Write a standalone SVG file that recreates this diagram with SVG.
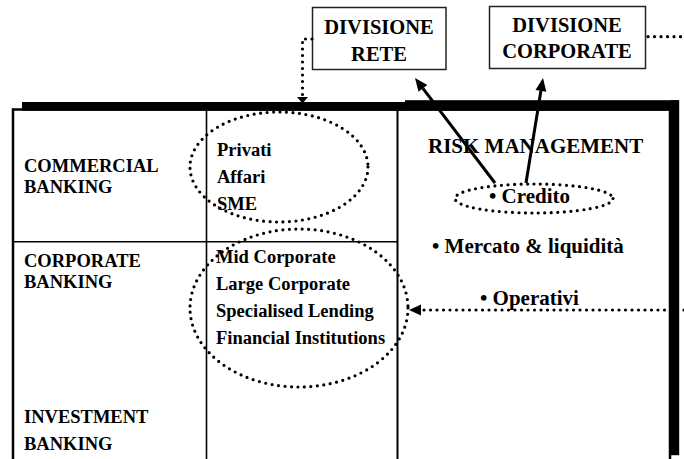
<svg xmlns="http://www.w3.org/2000/svg" width="684" height="459" viewBox="0 0 684 459">
<style>
.t{font-family:"Liberation Serif","Times New Roman",serif;font-weight:bold;fill:#000}
.tbl{font-size:18.5px}
.rm{font-size:21px}
.hd{font-size:20.5px;text-anchor:middle}
.box{fill:#fff;stroke:#222;stroke-width:1.5}
.dot{fill:none;stroke:#000;stroke-width:3.2;stroke-linecap:round;stroke-dasharray:0 6.5}
.ln{stroke:#000;fill:none}
.arr{stroke:#000;stroke-width:3;fill:none}
.head{fill:#000}
</style>
<rect x="0" y="0" width="684" height="459" fill="#fff"/>
<g id="table">
  <rect x="13" y="109.5" width="657" height="360" fill="none" stroke="#000" stroke-width="2.5"/>
  <line class="ln" x1="206.5" y1="109" x2="206.5" y2="459" stroke-width="1.6"/>
  <line class="ln" x1="397.5" y1="109" x2="397.5" y2="459" stroke-width="2"/>
  <line class="ln" x1="13" y1="241.7" x2="397.5" y2="241.7" stroke-width="1.6"/>
  <rect x="22" y="102" width="385" height="8.7" fill="#000"/>
  <rect x="405" y="100.2" width="274" height="10.5" fill="#000"/>
  <rect x="670.5" y="100.2" width="8.7" height="355" fill="#000"/>
</g>
<g id="commercial">
  <text class="t tbl" x="24" y="171.7">COMMERCIAL</text>
  <text class="t tbl" x="24" y="193.3">BANKING</text>
</g>
<g id="corporate">
  <text class="t tbl" x="24" y="266.7">CORPORATE</text>
  <text class="t tbl" x="24" y="288">BANKING</text>
</g>
<g id="investment">
  <text class="t tbl" x="24" y="423.3">INVESTMENT</text>
  <text class="t tbl" x="24" y="450">BANKING</text>
</g>
<g id="retail-segments">
  <text class="t tbl" x="217" y="155.7">Privati</text>
  <text class="t tbl" x="217" y="183.3">Affari</text>
  <text class="t tbl" x="217" y="210">SME</text>
  <ellipse class="dot" cx="279" cy="167" rx="89" ry="55"/>
</g>
<g id="corporate-segments">
  <text class="t tbl" x="216" y="263.3">Mid Corporate</text>
  <text class="t tbl" x="216" y="290">Large Corporate</text>
  <text class="t tbl" x="216" y="317.3">Specialised Lending</text>
  <text class="t tbl" x="216" y="344">Financial Institutions</text>
  <ellipse class="dot" cx="299" cy="308" rx="109" ry="79"/>
</g>
<g id="risk-management">
  <text class="t rm" x="428" y="152.7">RISK MANAGEMENT</text>
  <text class="t rm" x="489" y="202.7">• Credito</text>
  <ellipse class="dot" cx="534" cy="198.5" rx="79" ry="14.5"/>
  <text class="t rm" x="432" y="253.3">• Mercato &amp; liquidità</text>
  <text class="t rm" x="480" y="305">• Operativi</text>
</g>
<g id="divisione-rete">
  <rect class="box" x="312.5" y="7.5" width="133.5" height="62"/>
  <text class="t hd" x="379" y="34.3">DIVISIONE</text>
  <text class="t hd" x="379" y="60.5">RETE</text>
</g>
<g id="divisione-corporate">
  <rect class="box" x="489.5" y="6.5" width="156" height="62"/>
  <text class="t hd" x="567" y="31.7">DIVISIONE</text>
  <text class="t hd" x="567" y="58.3">CORPORATE</text>
</g>
<g id="connectors">
  <path class="dot" d="M312,39 L302.5,39 L302.5,95"/>
  <polygon class="head" points="297,97 308,97 302.5,103.5"/>
  <path class="dot" d="M648,36.7 L684,36.7"/>
  <path class="dot" d="M684,310 L421,310"/>
  <polygon class="head" points="409,310 421,304.5 421,315.5"/>
  <line class="arr" x1="495" y1="183" x2="422.9" y2="88.3"/>
  <polygon class="head" points="415,78 427.3,85 418.5,91.7"/>
  <line class="arr" x1="526" y1="183" x2="540.9" y2="90.8"/>
  <polygon class="head" points="543,78 546.3,91.7 535.5,89.9"/>
</g>
</svg>
